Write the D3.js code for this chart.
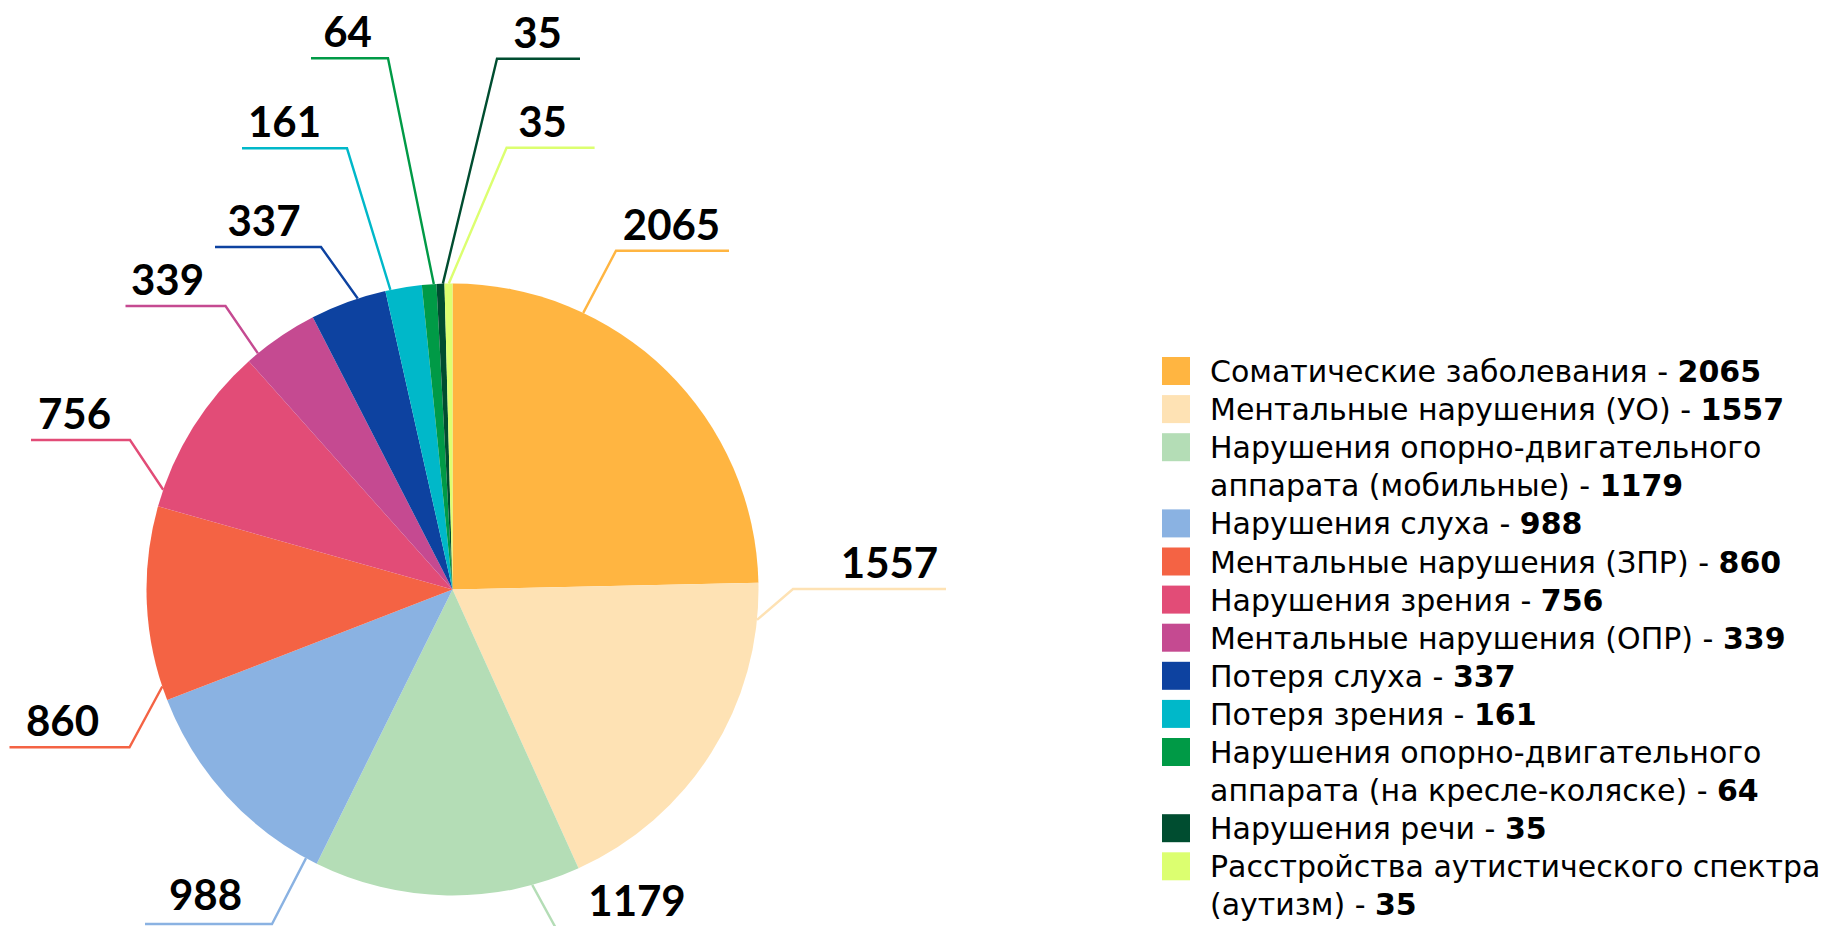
<!DOCTYPE html>
<html>
<head>
<meta charset="utf-8">
<script src="https://cdn.jsdelivr.net/npm/d3@7"></script>
<style>
  html, body { margin: 0; padding: 0; background: #fff; }
  svg { display: block; }
</style>
</head>
<body>
<div id="chart"></div>
<script>
// categories (legend text, "\n" = line break as in the original legend)
const names = [
    'Соматические заболевания',
    'Ментальные нарушения (УО)',
    'Нарушения опорно-двигательного\nаппарата (мобильные)',
    'Нарушения слуха',
    'Ментальные нарушения (ЗПР)',
    'Нарушения зрения',
    'Ментальные нарушения (ОПР)',
    'Потеря слуха',
    'Потеря зрения',
    'Нарушения опорно-двигательного\nаппарата (на кресле-коляске)',
    'Нарушения речи',
    'Расстройства аутистического спектра\n(аутизм)'
];
const values = [2065, 1557, 1179, 988, 860, 756, 339, 337, 161, 64, 35, 35];
const colors = [
    '#FFB541', '#FEE2B4', '#B4DDB6', '#8AB2E2', '#F46344', '#E24C77',
    '#C54A91', '#0D42A0', '#00B8C9', '#009A46', '#004D30', '#DCFF70'
];

const W = 1839, H = 926;
const cx = 452.5, cy = 589.5, R = 306;

// leader-line layout: t = where on the slice edge the line starts (0..1 of its angle),
// ex/ey = elbow relative to pie centre, len = horizontal tail, tdx/tdy = text shift
const labelLayout = [
    { t: 0.285, ex: 163.5, ey: -338.8, len: 113, tdx: -1, tdy: 0 },
    { t: 0.104, ex: 340.5, ey: -0.5, len: 153, tdx: 20, tdy: 0 },
    { t: 0.182, ex: 105.5, ey: 342.5, len: 130, tdx: 14, tdy: -5 },
    { t: 0.053, ex: -180.5, ey: 334.5, len: -127, tdx: -3, tdy: -3 },
    { t: 0.073, ex: -323, ey: 157.8, len: -120, tdx: -7, tdy: 0 },
    { t: 0.10, ex: -322.5, ey: -149.5, len: -99, tdx: -6, tdy: 0 },
    { t: 0.154, ex: -227, ey: -283.5, len: -100, tdx: -8, tdy: 0 },
    { t: 0.63, ex: -131.5, ey: -342.5, len: -106, tdx: -4, tdy: 0 },
    { t: 0.14, ex: -105.5, ey: -441.2, len: -105, tdx: -10, tdy: 0 },
    { t: 0.82, ex: -64.5, ey: -531.2, len: -77, tdx: -2, tdy: 0 },
    { t: 0.80, ex: 44.5, ey: -530.8, len: 83, tdx: -1, tdy: 0 },
    { t: 0.54, ex: 54.1, ey: -441.8, len: 88, tdx: -8, tdy: 0 }
];

const svg = d3.select('#chart').append('svg')
    .attr('width', W)
    .attr('height', H);

const pie = d3.pie().sort(null).value(d => d);
const arcs = pie(values);
const arc = d3.arc().innerRadius(0).outerRadius(R);

const g = svg.append('g').attr('transform', `translate(${cx},${cy})`);

g.selectAll('path.slice')
    .data(arcs)
    .enter()
    .append('path')
    .attr('class', 'slice')
    .attr('d', arc)
    .attr('fill', (d, i) => colors[i]);

// leader lines + value labels
arcs.forEach((a, i) => {
    const L = labelLayout[i];
    const ang = a.startAngle + L.t * (a.endAngle - a.startAngle);
    const ax = R * Math.sin(ang), ay = -R * Math.cos(ang);
    const tail = L.ex + L.len;
    g.append('polyline')
        .attr('points', `${ax},${ay} ${L.ex},${L.ey} ${tail},${L.ey}`)
        .attr('fill', 'none')
        .attr('stroke', colors[i])
        .attr('stroke-width', 2.4);
    g.append('text')
        .attr('x', (L.ex + tail) / 2 + L.tdx)
        .attr('y', L.ey - 11 + L.tdy)
        .attr('text-anchor', 'middle')
        .style('font-family', 'Lato, sans-serif')
        .style('font-weight', 700)
        .style('font-size', '42px')
        .style('fill', '#000')
        .text(values[i]);
});

// legend
const legX = 1162, legY = 371, lineH = 38.1, sw = 28;
const leg = svg.append('g');
let line = 0;
names.forEach((nm, i) => {
    const parts = nm.split('\n');
    const y0 = legY + line * lineH;
    leg.append('rect')
        .attr('x', legX)
        .attr('y', y0 - sw / 2)
        .attr('width', sw)
        .attr('height', sw)
        .attr('fill', colors[i]);
    parts.forEach((p, k) => {
        const t = leg.append('text')
            .attr('x', legX + 48)
            .attr('y', y0 + k * lineH)
            .attr('dominant-baseline', 'central')
            .style('font-family', 'DejaVu Sans, sans-serif')
            .style('font-size', '30px')
            .style('fill', '#000');
        if (k === parts.length - 1) {
            t.append('tspan').text(p + ' - ');
            t.append('tspan').style('font-weight', 700).text(values[i]);
        } else {
            t.text(p);
        }
    });
    line += parts.length;
});
</script>
</body>
</html>
